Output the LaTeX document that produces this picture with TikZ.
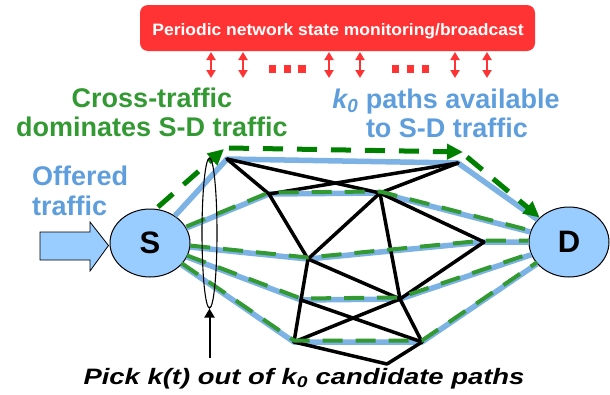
\documentclass[tikz,border=0pt]{standalone}
\usepackage{fontspec}
\setmainfont{Liberation Sans}
\newfontfamily\titlefont[FakeStretch=1.06]{Liberation Sans}
\newfontfamily\pickfont[FakeStretch=1.23]{Liberation Sans}
\usetikzlibrary{arrows.meta,shapes.geometric}

\definecolor{alarmred}{RGB}{255,51,51}
\definecolor{pathblue}{RGB}{125,178,228}
\definecolor{textblue}{RGB}{95,158,220}
\definecolor{nodefill}{RGB}{153,204,255}
\definecolor{crossgreen}{RGB}{0,128,0}
\definecolor{lightgreen}{RGB}{51,153,51}

\begin{document}
\begin{tikzpicture}[x=1pt,y=-1pt,
  pathline/.style={pathblue,line width=5.5pt,line join=round},
  netedge/.style={black,line width=3.5pt,line cap=round},
  greenover/.style={lightgreen,line width=4pt,dash pattern=on 20pt off 13pt,
    line join=round,transform canvas={yshift=1.5pt}},
  crossarrow/.style={crossgreen,line width=5pt,dash pattern=on 20pt off 14pt,
    -{Triangle[length=16pt,width=15pt]}},
  syncarrow/.style={alarmred,line width=2.5pt,
    {Triangle[length=8pt,width=9pt]}-{Triangle[length=8pt,width=9pt]}},
  endpoint/.style={ellipse,draw=black,line width=1pt,fill=nodefill,inner sep=0pt,
    font=\bfseries\fontsize{31}{31}\selectfont},
  bigtext/.style={inner sep=0pt,font=\bfseries\fontsize{27}{32}\selectfont},
]
\useasboundingbox (0,0) rectangle (610,394);

% monitoring bar
\node[fill=alarmred,rounded corners=8pt,minimum width=395pt,minimum height=46pt,inner sep=0pt]
  (monitor) at (337.5,28) {};
\node[anchor=base,inner sep=0pt,text=white,font=\titlefont\bfseries\fontsize{16.5}{19}\selectfont]
  (monitortext) at (338,35) {Periodic network state monitoring/broadcast};

% sync arrows and ellipsis squares
\foreach \x [count=\i] in {211,243,329,360,455,487} {
  \coordinate (rt\i) at (\x,52);
  \coordinate (rb\i) at (\x,78);
  \draw[syncarrow] (rt\i) -- (rb\i);
}
\foreach \x in {272.5,287.5,302,395.5,410.5,425.5}
  \fill[alarmred] (\x-3.75,65) rectangle ++(7.5,7.5);

% labels
\node[bigtext,anchor=base,text=lightgreen] (cross1) at (152,107) {Cross-traffic};
\node[bigtext,anchor=base,text=lightgreen] (cross2) at (152,136) {dominates S-D traffic};
\node[bigtext,anchor=base,text=textblue] (avail1) at (446,108) {{\itshape k\textsubscript{0}} paths available};
\node[bigtext,anchor=base,text=textblue] (avail2) at (447,137) {to S-D traffic};
\node[bigtext,anchor=base west,text=textblue] (offer1) at (32,185) {Offered};
\node[bigtext,anchor=base west,text=textblue] (offer2) at (32,215) {traffic};

% source and destination
\node[endpoint,minimum width=80pt,minimum height=68pt] (S) at (150,243) {S};
\node[endpoint,minimum width=80pt,minimum height=70pt] (D) at (569,242) {D};

% network vertices
\coordinate (A) at (227,159);
\coordinate (B) at (458,163);
\coordinate (C) at (269,194);
\coordinate (X) at (380,193);
\coordinate (E) at (484,242);
\coordinate (F) at (308,259);
\coordinate (H) at (301,300);
\coordinate (I) at (400,299);
\coordinate (G) at (294,342);
\coordinate (J) at (422,342);
\coordinate (K) at (387,364);

% candidate paths
\draw[pathline] (S) -- (A) -- (B) -- (D);
\draw[pathline] (S) -- (C) -- (X) -- (D);
\draw[pathline] (S) -- (F) -- (E) -- (D);
\draw[pathline] (S) -- (H) -- (I) -- (D);
\draw[pathline] (S) -- (G) -- (J) -- (D);

% network links
\draw[netedge] (A) -- (C);
\draw[netedge] (A) -- (X);
\draw[netedge] (C) -- (B);
\draw[netedge] (X) -- (B);
\draw[netedge] (C) -- (F);
\draw[netedge] (X) -- (F);
\draw[netedge] (X) -- (I);
\draw[netedge] (X) -- (E);
\draw[netedge] (E) -- (I);
\draw[netedge] (F) -- (I);
\draw[netedge] (F) -- (H);
\draw[netedge] (H) -- (G);
\draw[netedge] (H) -- (J);
\draw[netedge] (I) -- (G);
\draw[netedge] (I) -- (J);
\draw[netedge] (G) -- (K);
\draw[netedge] (K) -- (J);

% cross traffic sharing the paths
\draw[greenover] (S) -- (C) -- (X) -- (D);
\draw[greenover] (S) -- (F) -- (E) -- (D);
\draw[greenover] (S) -- (H) -- (I) -- (D);
\draw[greenover] (S) -- (G) -- (J) -- (D);

% dominant cross traffic on the top path
\coordinate (g0) at (158,207);
\coordinate (g1) at (224,149);
\coordinate (g2) at (229,148);
\coordinate (g3) at (463,152);
\coordinate (g4) at (467,157);
\draw[crossarrow] (g0) -- (g1);
\draw[crossarrow] (g2) -- (g3);
\draw[crossarrow] (g4) -- (D);

% offered traffic arrow
\draw[black,line width=0.8pt,fill=nodefill]
  (40,232) -- (90,232) -- (90,222) -- (108.5,245.5) -- (90,271) -- (90,260) -- (40,260) -- cycle;

% path selection
\node[ellipse,draw=black,line width=1.1pt,minimum width=15pt,minimum height=150pt,inner sep=0pt]
  (sel) at (209.5,233) {};
\node[anchor=base,inner sep=0pt,font=\pickfont\bfseries\itshape\fontsize{22.3}{26}\selectfont]
  (pick) at (304,384) {Pick k(t) out of k\textsubscript{0} candidate paths};
\coordinate (pk) at (209.5,358);
\draw[black,line width=2pt,-{Triangle[length=9pt,width=10pt]}] (pk) -- (sel.south);
\end{tikzpicture}
\end{document}
